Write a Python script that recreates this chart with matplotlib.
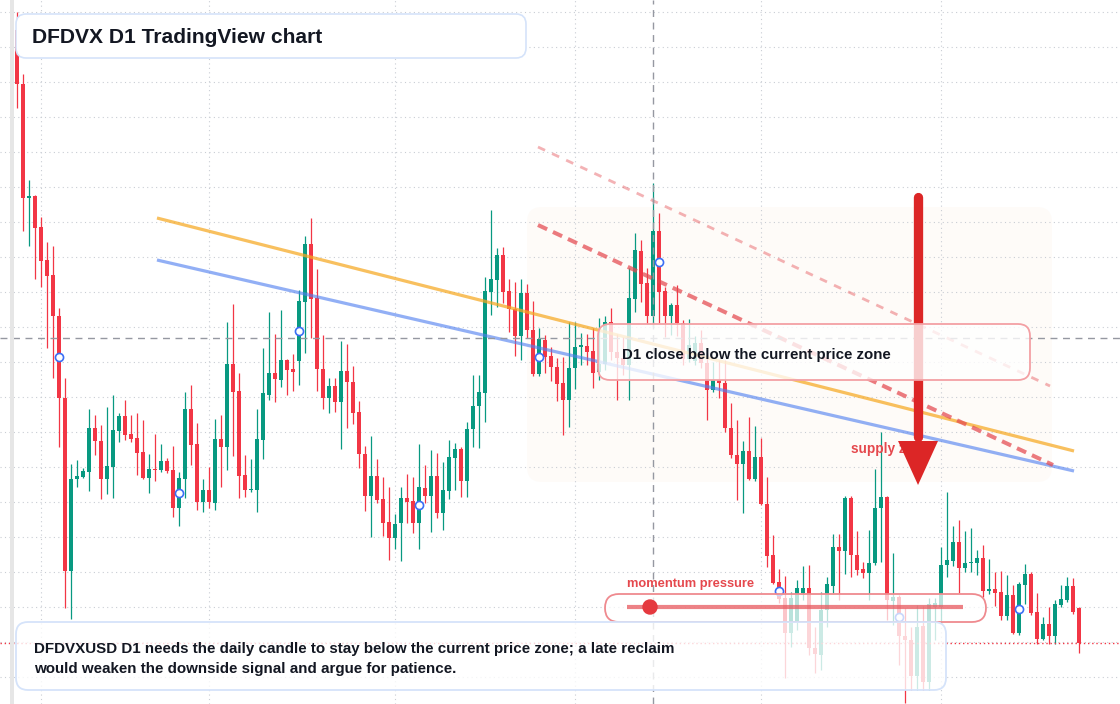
import numpy as np
import pandas as pd
import matplotlib
matplotlib.use("Agg")
import matplotlib.pyplot as plt
from matplotlib.patches import FancyBboxPatch, Polygon, Rectangle, Circle

plt.rcParams['font.family'] = ['Liberation Sans', 'DejaVu Sans']

# ---------------- data (price in thousandths of USD) ----------------
dates = pd.date_range("2025-01-28", periods=178, freq="D")

opens = np.array([
    970, 916, 802, 804, 773, 740, 725, 684, 602, 429,
    521, 523, 528, 572, 559, 521, 533, 569, 584, 566,
    562, 548, 522, 531, 530, 539, 530, 492, 521, 591,
    556, 498, 510, 497, 561, 553, 636, 609, 525, 510,
    510, 560, 605, 627, 620, 640, 631, 639, 698, 756,
    702, 631, 602, 614, 598, 629, 618, 588, 546, 504,
    524, 501, 478, 462, 477, 502, 499, 477, 512, 504,
    524, 487, 509, 542, 551, 519, 571, 594, 607, 708,
    720, 745, 709, 691, 664, 707, 670, 626, 660, 644,
    633, 617, 600, 632, 653, 654, 649, 628, 636, 678,
    648, 642, 635, 701, 749, 717, 684, 769, 709, 684,
    695, 677, 641, 639, 657, 637, 610, 620, 617, 572,
    545, 536, 549, 521, 543, 496, 445, 418, 402, 367,
    378, 407, 412, 352, 345, 390, 414, 453, 449, 502,
    445, 431, 427, 437, 492, 503, 399, 403, 364, 360,
    324, 374, 318, 393, 393, 435, 439, 458, 432, 437,
    437, 442, 409, 411, 408, 384, 405, 367, 415, 426,
    388, 361, 376, 364, 395, 400, 414, 392]) / 1000

highs = np.array([
    988, 926, 820, 805, 783, 758, 754, 692, 622, 536,
    540, 532, 591, 585, 575, 593, 605, 587, 600, 585,
    587, 580, 546, 566, 556, 542, 554, 528, 608, 615,
    577, 521, 533, 581, 585, 678, 696, 627, 545, 541,
    591, 652, 688, 666, 690, 641, 646, 710, 764, 782,
    731, 665, 622, 622, 659, 656, 634, 599, 554, 564,
    541, 523, 513, 486, 513, 526, 523, 556, 535, 550,
    547, 538, 560, 557, 553, 578, 625, 625, 723, 790,
    752, 753, 721, 718, 721, 716, 699, 672, 665, 653,
    642, 643, 678, 678, 667, 666, 672, 682, 684, 692,
    666, 663, 732, 767, 760, 732, 817, 787, 713, 697,
    715, 680, 681, 664, 670, 647, 638, 640, 640, 597,
    580, 559, 583, 574, 562, 523, 465, 431, 424, 408,
    420, 434, 435, 373, 408, 423, 466, 466, 504, 504,
    469, 438, 470, 531, 568, 504, 447, 405, 392, 373,
    395, 394, 402, 402, 453, 508, 474, 480, 469, 472,
    450, 455, 441, 428, 429, 425, 415, 418, 436, 428,
    407, 383, 393, 400, 415, 423, 422, 393]) / 1000

lows = np.array([
    892, 769, 754, 721, 713, 652, 622, 553, 392, 381,
    513, 522, 509, 545, 501, 506, 502, 558, 560, 558,
    525, 521, 507, 519, 528, 527, 483, 474, 502, 535,
    490, 488, 492, 490, 513, 530, 544, 502, 503, 508,
    488, 541, 600, 598, 613, 605, 609, 615, 647, 662,
    609, 591, 587, 588, 551, 572, 576, 532, 489, 463,
    497, 464, 440, 451, 439, 477, 467, 451, 497, 468,
    482, 470, 501, 510, 503, 503, 553, 552, 578, 685,
    693, 697, 668, 644, 640, 662, 624, 624, 627, 619,
    599, 565, 573, 611, 635, 635, 612, 620, 630, 640,
    600, 625, 600, 688, 698, 676, 673, 677, 663, 665,
    664, 635, 638, 635, 632, 580, 608, 602, 568, 542,
    500, 487, 520, 519, 495, 433, 416, 397, 322, 353,
    370, 400, 345, 327, 330, 373, 407, 400, 426, 423,
    425, 422, 400, 435, 438, 380, 375, 335, 297, 310,
    310, 310, 310, 360, 377, 423, 434, 407, 428, 428,
    425, 403, 406, 394, 380, 380, 366, 365, 396, 385,
    356, 360, 356, 356, 393, 398, 386, 347]) / 1000

closes = np.array([
    916, 802, 804, 772, 739, 724, 684, 602, 429, 521,
    524, 529, 572, 559, 521, 534, 570, 584, 565, 561,
    547, 522, 531, 530, 539, 529, 492, 522, 591, 555,
    498, 510, 498, 561, 553, 636, 608, 524, 510, 511,
    561, 607, 627, 621, 640, 630, 628, 699, 756, 701,
    631, 602, 614, 598, 629, 618, 587, 546, 504, 524,
    500, 477, 462, 476, 502, 498, 477, 513, 504, 524,
    487, 510, 543, 551, 519, 571, 594, 608, 709, 721,
    745, 708, 691, 664, 707, 670, 626, 661, 643, 633,
    616, 600, 632, 653, 655, 648, 627, 636, 678, 648,
    642, 635, 702, 750, 716, 684, 769, 708, 684, 695,
    677, 641, 655, 657, 637, 610, 620, 617, 572, 545,
    536, 549, 521, 543, 496, 444, 417, 401, 367, 402,
    412, 412, 352, 346, 390, 416, 453, 449, 502, 445,
    430, 427, 437, 492, 503, 400, 403, 364, 360, 324,
    373, 318, 396, 397, 435, 440, 458, 432, 437, 438,
    442, 409, 411, 407, 384, 405, 367, 416, 426, 387,
    361, 376, 364, 396, 401, 414, 388, 357]) / 1000

signal_idx = [7, 27, 47, 67, 87, 107, 127, 147, 167]
crosshair_idx = 106
crosshair_price = 0.6617

# drawn trend lines (index, price)
orange_x, orange_y = [23.33, 176.17], [0.782, 0.549]
blue_x, blue_y = [23.33, 176.17], [0.740, 0.529]
red_main_x, red_main_y = [86.83, 172.67], [0.775, 0.535]
red_upper_x, red_upper_y = [86.83, 172.17], [0.853, 0.614]
zone_x0, zone_x1, zone_y0, zone_y1 = 85.0, 172.5, 0.518, 0.793
arrow_idx, arrow_top, arrow_head, arrow_tip = 150.17, 0.803, 0.559, 0.515

title = "DFDVX D1 TradingView chart"
note_top = "D1 close below the current price zone"
note_bottom_1 = "DFDVXUSD D1 needs the daily candle to stay below the current price zone; a late reclaim"
note_bottom_2 = "would weaken the downside signal and argue for patience."

# ---------------- style ----------------
W, H = 1120, 704
GREEN = '#089981'
RED = '#f23645'
TXT = '#131722'

fig = plt.figure(figsize=(W / 100, H / 100), dpi=100, facecolor='white')
ax = fig.add_axes([0, 0, 1, 1])
ax.set_facecolor('white')
x = np.arange(len(opens))
ax.set_xlim(-17 / 6, (W - 17) / 6)
ax.set_ylim(0.296, 1.0)

month_idx = np.where(dates.day == 1)[0]
ax.set_xticks(month_idx)
ax.set_yticks(np.arange(0.3233, 1.0, 0.035))
ax.tick_params(length=0, labelbottom=False, labelleft=False)
for s in ax.spines.values():
    s.set_visible(False)
ax.set_axisbelow(True)
ax.grid(True, color='#c9cdd4', lw=0.8, ls=(0, (1, 3)))

# overlay axes in pixel units
ax2 = fig.add_axes([0, 0, 1, 1], zorder=10)
ax2.set_xlim(0, W)
ax2.set_ylim(H, 0)
ax2.axis('off')
ax2.patch.set_alpha(0)

# zone
ax.add_patch(FancyBboxPatch((zone_x0, zone_y0), zone_x1 - zone_x0, zone_y1 - zone_y0,
                            boxstyle='round,pad=0,rounding_size=2.5', mutation_aspect=0.006,
                            fc='#fefbf8', ec='none', zorder=0.2))

# candles
up = closes >= opens
cols = np.where(up, GREEN, RED)
ax.vlines(x, lows, highs, colors=cols, lw=0.9, zorder=2)
body_lo = np.minimum(opens, closes)
body_h = np.maximum(np.abs(closes - opens), 0.0012)
ax.bar(x, body_h, bottom=body_lo, width=0.78, color=cols, lw=0, zorder=2.1)

# last price line
ax.axhline(closes[-1], color=RED, lw=1.0, ls=(0, (1, 2)), zorder=2.5)

# trend lines
ax.plot(orange_x, orange_y, color='#f6a821', alpha=0.72, lw=2.3, zorder=3, solid_capstyle='butt')
ax.plot(blue_x, blue_y, color='#4f7ff0', alpha=0.62, lw=2.3, zorder=3, solid_capstyle='butt')
ax.plot(red_main_x, red_main_y, color='#e4494f', alpha=0.72, lw=2.9, ls=(0, (2.5, 1.6)), zorder=3)
ax.plot(red_upper_x, red_upper_y, color='#e4494f', alpha=0.42, lw=2.0, ls=(0, (2.8, 2.8)), zorder=3)

# crosshair
ax.axvline(crosshair_idx, color='#9598a1', lw=1.0, ls=(0, (5, 4)), zorder=3.5)
ax.axhline(crosshair_price, color='#9598a1', lw=1.0, ls=(0, (5, 4)), zorder=3.5)

# signal markers
sig = np.array(signal_idx)
ax.scatter(sig, (opens[sig] + closes[sig]) / 2, s=34, facecolor='white',
           edgecolor='#3b6ef5', linewidth=1.2, zorder=4)

# supply zone label + arrow
ax.text(851, 452.7, "supply zone", transform=ax2.transData, color='#e5484d',
        fontsize=9.8, fontweight='bold', va='baseline', ha='left', zorder=5)
ax.plot([arrow_idx, arrow_idx], [arrow_top, arrow_head + 0.004], color='#dc2626', lw=6.7,
        solid_capstyle='round', zorder=6)
ax.add_patch(Polygon([[arrow_idx - 3.33, arrow_head], [arrow_idx + 3.33, arrow_head],
                      [arrow_idx, arrow_tip]], closed=True, color='#dc2626', lw=0, zorder=6))

# left strip
ax2.add_patch(Rectangle((10, 0), 4, H, fc='#e6e6e6', ec='none', zorder=1))

# title box
ax2.add_patch(FancyBboxPatch((16, 14), 510, 44, boxstyle='round,pad=0,rounding_size=10',
                             fc='white', ec='#d5e3fa', lw=1.2, zorder=2))
ax2.text(32, 43.3, title, fontsize=15.1, fontweight='bold', color=TXT, va='baseline', zorder=3)

# top note box
ax2.add_patch(FancyBboxPatch((598, 324), 432, 56, boxstyle='round,pad=0,rounding_size=12',
                             fc=(1, 1, 1, 0.78), ec='#f3a0a4', lw=1.3, zorder=2))
ax2.text(622, 359.3, note_top, fontsize=10.85, fontweight='bold', color=TXT, va='baseline', zorder=3)

# momentum pressure gauge
ax2.text(627, 587.5, "momentum pressure", fontsize=9.3, fontweight='bold', color='#e5484d',
         va='baseline', zorder=3)
ax2.add_patch(FancyBboxPatch((605, 594), 381, 28, boxstyle='round,pad=0,rounding_size=14',
                             fc=(1, 1, 1, 0.72), ec='#ef8a8f', lw=1.3, zorder=2))
ax2.plot([627, 963], [607, 607], color='#e8585e', alpha=0.75, lw=3, solid_capstyle='butt', zorder=3)
ax2.add_patch(Circle((650, 607), 7, color='#e5393f', zorder=4))

# bottom note box
ax2.add_patch(FancyBboxPatch((16, 622), 930, 68, boxstyle='round,pad=0,rounding_size=12',
                             fc=(1, 1, 1, 0.8), ec='#d5e3fa', lw=1.3, zorder=2))
ax2.text(34, 653.3, note_bottom_1, fontsize=10.9, fontweight='bold', color=TXT, va='baseline', zorder=3)
ax2.text(34, 673.3, note_bottom_2, fontsize=10.9, fontweight='bold', color=TXT, va='baseline', zorder=3)

fig.savefig('out.png', dpi=100, facecolor='white')
